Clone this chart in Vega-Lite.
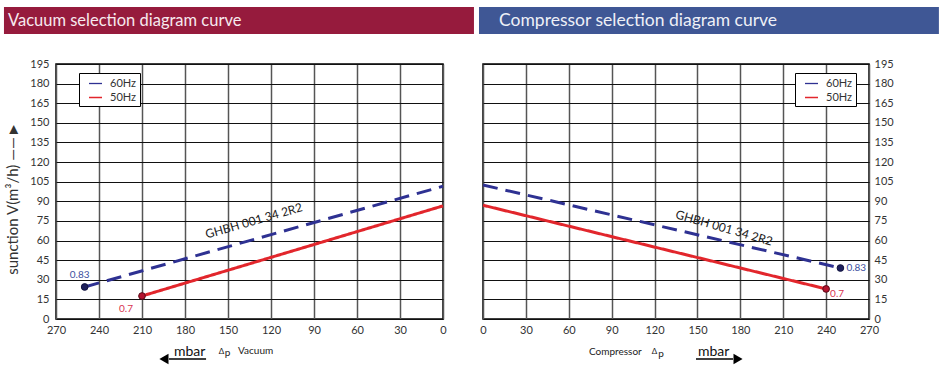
{
  "$schema": "https://vega.github.io/schema/vega-lite/v6.json",
  "padding": {"left": 3, "top": 6, "right": 4, "bottom": 3},
  "config": {"view": {"stroke": "#000", "strokeWidth": 1.5}, "font": "Lato"},
  "spacing": 1,
  "datasets": {
    "lines": [
      {"side": "L", "freq": "60Hz", "x": 250, "y": 24.5},
      {"side": "L", "freq": "60Hz", "x": 0, "y": 101.5},
      {"side": "L", "freq": "50Hz", "x": 210, "y": 17.6},
      {"side": "L", "freq": "50Hz", "x": 0, "y": 86.5},
      {"side": "R", "freq": "60Hz", "x": 0, "y": 102.5},
      {"side": "R", "freq": "60Hz", "x": 250, "y": 39},
      {"side": "R", "freq": "50Hz", "x": 0, "y": 87},
      {"side": "R", "freq": "50Hz", "x": 240, "y": 23}
    ],
    "pts": [
      {"side": "L", "freq": "60Hz", "x": 250, "y": 24.5, "t": "0.83"},
      {"side": "L", "freq": "50Hz", "x": 210, "y": 17.6, "t": "0.7"},
      {"side": "R", "freq": "60Hz", "x": 250, "y": 39, "t": "0.83"},
      {"side": "R", "freq": "50Hz", "x": 240, "y": 23, "t": "0.7"}
    ],
    "hdrL": [{"x": 306.3, "x2": -21.6, "y": 238.6, "y2": 217.9, "t": "Vacuum selection diagram curve", "tx": 303.5, "ty": 228}],
    "hdrR": [{"x": -2.8, "x2": 318.9, "y": 238.6, "y2": 217.9, "t": "Compressor selection diagram curve", "tx": 11.2, "ty": 228}],
    "curveL": [{"x": 131.9, "y": 75, "t": "GHBH 001 34 2R2"}],
    "curveR": [{"x": 168.6, "y": 69.6, "t": "GHBH 001 34 2R2"}],
    "bigL": [{"x": 187.7, "y": -28.3, "t": "mbar"}],
    "bigR": [{"x": 150.4, "y": -28.3, "t": "mbar"}],
    "smallL": [{"x": 143, "y": -26.8, "t": "Vacuum"}],
    "smallR": [{"x": 74.1, "y": -27.9, "t": "Compressor"}],
    "deltaL": [{"x": 154.5, "y": -26.8, "t": "Δ"}],
    "deltaR": [{"x": 120, "y": -26.8, "t": "Δ"}],
    "subL": [{"x": 150.3, "y": -28.3, "t": "p"}],
    "subR": [{"x": 124.5, "y": -29.1, "t": "p"}],
    "shaftL": [{"x": 191.2, "x2": 165.3, "y": -30.6}],
    "shaftR": [{"x": 149.0, "x2": 174.9, "y": -30.6}],
    "headL": [{"x": 194.7, "y": -30.6}],
    "headR": [{"x": 178.4, "y": -30.6}]
  },
  "resolve": {"scale": {"color": "independent", "strokeDash": "independent", "fill": "independent", "stroke": "independent"}, "legend": {"color": "independent"}},
  "hconcat": [
    {
      "width": 387,
      "height": 255,
      "encoding": {
        "x": {"field": "x", "type": "quantitative",
          "scale": {"domain": [0, 270], "reverse": true, "nice": false, "zero": false},
          "axis": {"values": [0, 30, 60, 90, 120, 150, 180, 210, 240, 270], "title": null, "grid": true, "gridColor": "#555", "gridWidth": 1.5, "ticks": false, "domain": false, "labelFlush": false, "labelPadding": 5, "labelFontSize": 11, "labelColor": "#333", "labelFont": "Lato"}},
        "y": {"field": "y", "type": "quantitative",
          "scale": {"domain": [0, 195], "nice": false, "zero": false},
          "axis": {"values": [0, 15, 30, 45, 60, 75, 90, 105, 120, 135, 150, 165, 180, 195], "title": "sunction V(m³/h)  ——►", "grid": true, "gridColor": "#111", "gridWidth": 1, "ticks": false, "domain": false, "labelPadding": 7, "labelFontSize": 11, "labelColor": "#333", "labelFont": "Lato", "titleFont": "Lato", "titleFontSize": 15, "titleFontWeight": "normal", "titleColor": "#333", "titlePadding": 9, "titleY": 134}}
      },
      "layer": [
        {"data": {"name": "hdrL"}, "mark": {"type": "rect", "fill": "#961b3d"},
          "encoding": {"x2": {"field": "x2"}, "y2": {"field": "y2"}}},
        {"data": {"name": "hdrL"}, "mark": {"type": "text", "align": "left", "baseline": "middle", "fontSize": 16.5, "font": "Lato", "color": "#f6e9ee"},
          "encoding": {"x": {"field": "tx", "type": "quantitative"}, "y": {"field": "ty", "type": "quantitative"}, "text": {"field": "t"}}},
        {"data": {"name": "lines"}, "transform": [{"filter": "datum.side === 'L'"}],
          "mark": {"type": "line", "strokeWidth": 3},
          "encoding": {
            "color": {"field": "freq", "type": "nominal", "scale": {"domain": ["60Hz", "50Hz"], "range": ["#2e3192", "#e2262c"]},
              "legend": {"title": null, "orient": "none", "legendX": 23, "legendY": 9, "direction": "vertical", "strokeColor": "#000", "fillColor": "#fff", "padding": 3, "symbolType": "stroke", "symbolSize": 169, "symbolStrokeWidth": 1.3, "symbolOffset": 6, "labelFontSize": 11, "labelFont": "Lato", "labelColor": "#333", "labelOffset": 7, "rowPadding": 1,
                "symbolDash": {"expr": "datum.value === '60Hz' ? [3, 2] : [1, 0]"}}},
            "strokeDash": {"field": "freq", "type": "nominal", "scale": {"domain": ["60Hz", "50Hz"], "range": [[15, 8], [1, 0]]}, "legend": null}
          }},
        {"data": {"name": "pts"}, "transform": [{"filter": "datum.side === 'L'"}],
          "mark": {"type": "circle", "size": 45, "opacity": 1, "strokeWidth": 1},
          "encoding": {
            "fill": {"condition": {"test": "datum.freq === '60Hz'", "value": "#1d1f5c"}, "value": "#b3142f"},
            "stroke": {"condition": {"test": "datum.freq === '60Hz'", "value": "#12143f"}, "value": "#5a0a18"}
          }},
        {"data": {"name": "pts"}, "transform": [{"filter": "datum.side === 'L' && datum.freq === '60Hz'"}],
          "mark": {"type": "text", "fontSize": 10, "dx": -5, "dy": -12, "color": "#3c4fa0", "font": "Lato"},
          "encoding": {"text": {"field": "t"}}},
        {"data": {"name": "pts"}, "transform": [{"filter": "datum.side === 'L' && datum.freq === '50Hz'"}],
          "mark": {"type": "text", "fontSize": 10, "dx": -16, "dy": 13, "color": "#d8344f", "font": "Lato"},
          "encoding": {"text": {"field": "t"}}},
        {"data": {"name": "curveL"}, "mark": {"type": "text", "fontSize": 12, "angle": -16, "color": "#222", "font": "Lato"},
          "encoding": {"text": {"field": "t"}}},
        {"data": {"name": "bigL"}, "mark": {"type": "text", "fontSize": 14, "align": "left", "baseline": "alphabetic", "color": "#111", "font": "Lato"},
          "encoding": {"text": {"field": "t"}}},
        {"data": {"name": "smallL"}, "mark": {"type": "text", "fontSize": 10, "align": "left", "baseline": "alphabetic", "color": "#222", "font": "Lato"},
          "encoding": {"text": {"field": "t"}}},
        {"data": {"name": "deltaL"}, "mark": {"type": "text", "fontSize": 8, "align": "center", "baseline": "alphabetic", "color": "#222", "font": "Lato"},
          "encoding": {"text": {"field": "t"}}},
        {"data": {"name": "subL"}, "mark": {"type": "text", "fontSize": 10, "align": "center", "baseline": "alphabetic", "color": "#222", "font": "Lato"},
          "encoding": {"text": {"field": "t"}}},
        {"data": {"name": "shaftL"}, "mark": {"type": "rule", "strokeWidth": 1.5, "color": "#000"},
          "encoding": {"x2": {"field": "x2"}}},
        {"data": {"name": "headL"}, "mark": {"type": "point", "shape": "triangle-left", "filled": true, "size": 110, "color": "#000", "opacity": 1},
          "encoding": {}}
      ]
    },
    {
      "width": 386,
      "height": 255,
      "encoding": {
        "x": {"field": "x", "type": "quantitative",
          "scale": {"domain": [0, 270], "nice": false, "zero": false},
          "axis": {"values": [0, 30, 60, 90, 120, 150, 180, 210, 240, 270], "title": null, "grid": true, "gridColor": "#555", "gridWidth": 1.5, "ticks": false, "domain": false, "labelFlush": false, "labelPadding": 5, "labelFontSize": 11, "labelColor": "#333", "labelFont": "Lato"}},
        "y": {"field": "y", "type": "quantitative",
          "scale": {"domain": [0, 195], "nice": false, "zero": false},
          "axis": {"orient": "right", "values": [0, 15, 30, 45, 60, 75, 90, 105, 120, 135, 150, 165, 180, 195], "title": null, "grid": true, "gridColor": "#111", "gridWidth": 1, "ticks": false, "domain": false, "labelPadding": 5, "labelFontSize": 11, "labelColor": "#333", "labelFont": "Lato"}}
      },
      "layer": [
        {"data": {"name": "hdrR"}, "mark": {"type": "rect", "fill": "#3f5795"},
          "encoding": {"x2": {"field": "x2"}, "y2": {"field": "y2"}}},
        {"data": {"name": "hdrR"}, "mark": {"type": "text", "align": "left", "baseline": "middle", "fontSize": 17.5, "font": "Lato", "color": "#eef0f7"},
          "encoding": {"x": {"field": "tx", "type": "quantitative"}, "y": {"field": "ty", "type": "quantitative"}, "text": {"field": "t"}}},
        {"data": {"name": "lines"}, "transform": [{"filter": "datum.side === 'R'"}],
          "mark": {"type": "line", "strokeWidth": 3},
          "encoding": {
            "color": {"field": "freq", "type": "nominal", "scale": {"domain": ["60Hz", "50Hz"], "range": ["#2e3192", "#e2262c"]},
              "legend": {"title": null, "orient": "none", "legendX": 312, "legendY": 9, "direction": "vertical", "strokeColor": "#000", "fillColor": "#fff", "padding": 3, "symbolType": "stroke", "symbolSize": 169, "symbolStrokeWidth": 1.3, "symbolOffset": 6, "labelFontSize": 11, "labelFont": "Lato", "labelColor": "#333", "labelOffset": 7, "rowPadding": 1,
                "symbolDash": {"expr": "datum.value === '60Hz' ? [3, 2] : [1, 0]"}}},
            "strokeDash": {"field": "freq", "type": "nominal", "scale": {"domain": ["60Hz", "50Hz"], "range": [[15, 8], [1, 0]]}, "legend": null}
          }},
        {"data": {"name": "pts"}, "transform": [{"filter": "datum.side === 'R'"}],
          "mark": {"type": "circle", "size": 45, "opacity": 1, "strokeWidth": 1},
          "encoding": {
            "fill": {"condition": {"test": "datum.freq === '60Hz'", "value": "#1d1f5c"}, "value": "#b3142f"},
            "stroke": {"condition": {"test": "datum.freq === '60Hz'", "value": "#12143f"}, "value": "#5a0a18"}
          }},
        {"data": {"name": "pts"}, "transform": [{"filter": "datum.side === 'R' && datum.freq === '60Hz'"}],
          "mark": {"type": "text", "fontSize": 10, "align": "left", "dx": 6, "dy": 0, "color": "#3c4fa0", "font": "Lato"},
          "encoding": {"text": {"field": "t"}}},
        {"data": {"name": "pts"}, "transform": [{"filter": "datum.side === 'R' && datum.freq === '50Hz'"}],
          "mark": {"type": "text", "fontSize": 10, "align": "left", "dx": 4, "dy": 5, "color": "#d8344f", "font": "Lato"},
          "encoding": {"text": {"field": "t"}}},
        {"data": {"name": "curveR"}, "mark": {"type": "text", "fontSize": 12, "angle": 16, "color": "#222", "font": "Lato"},
          "encoding": {"text": {"field": "t"}}},
        {"data": {"name": "bigR"}, "mark": {"type": "text", "fontSize": 14, "align": "left", "baseline": "alphabetic", "color": "#111", "font": "Lato"},
          "encoding": {"text": {"field": "t"}}},
        {"data": {"name": "smallR"}, "mark": {"type": "text", "fontSize": 10, "align": "left", "baseline": "alphabetic", "color": "#222", "font": "Lato"},
          "encoding": {"text": {"field": "t"}}},
        {"data": {"name": "deltaR"}, "mark": {"type": "text", "fontSize": 8, "align": "center", "baseline": "alphabetic", "color": "#222", "font": "Lato"},
          "encoding": {"text": {"field": "t"}}},
        {"data": {"name": "subR"}, "mark": {"type": "text", "fontSize": 10, "align": "center", "baseline": "alphabetic", "color": "#222", "font": "Lato"},
          "encoding": {"text": {"field": "t"}}},
        {"data": {"name": "shaftR"}, "mark": {"type": "rule", "strokeWidth": 1.5, "color": "#000"},
          "encoding": {"x2": {"field": "x2"}}},
        {"data": {"name": "headR"}, "mark": {"type": "point", "shape": "triangle-right", "filled": true, "size": 110, "color": "#000", "opacity": 1},
          "encoding": {}}
      ]
    }
  ]
}
